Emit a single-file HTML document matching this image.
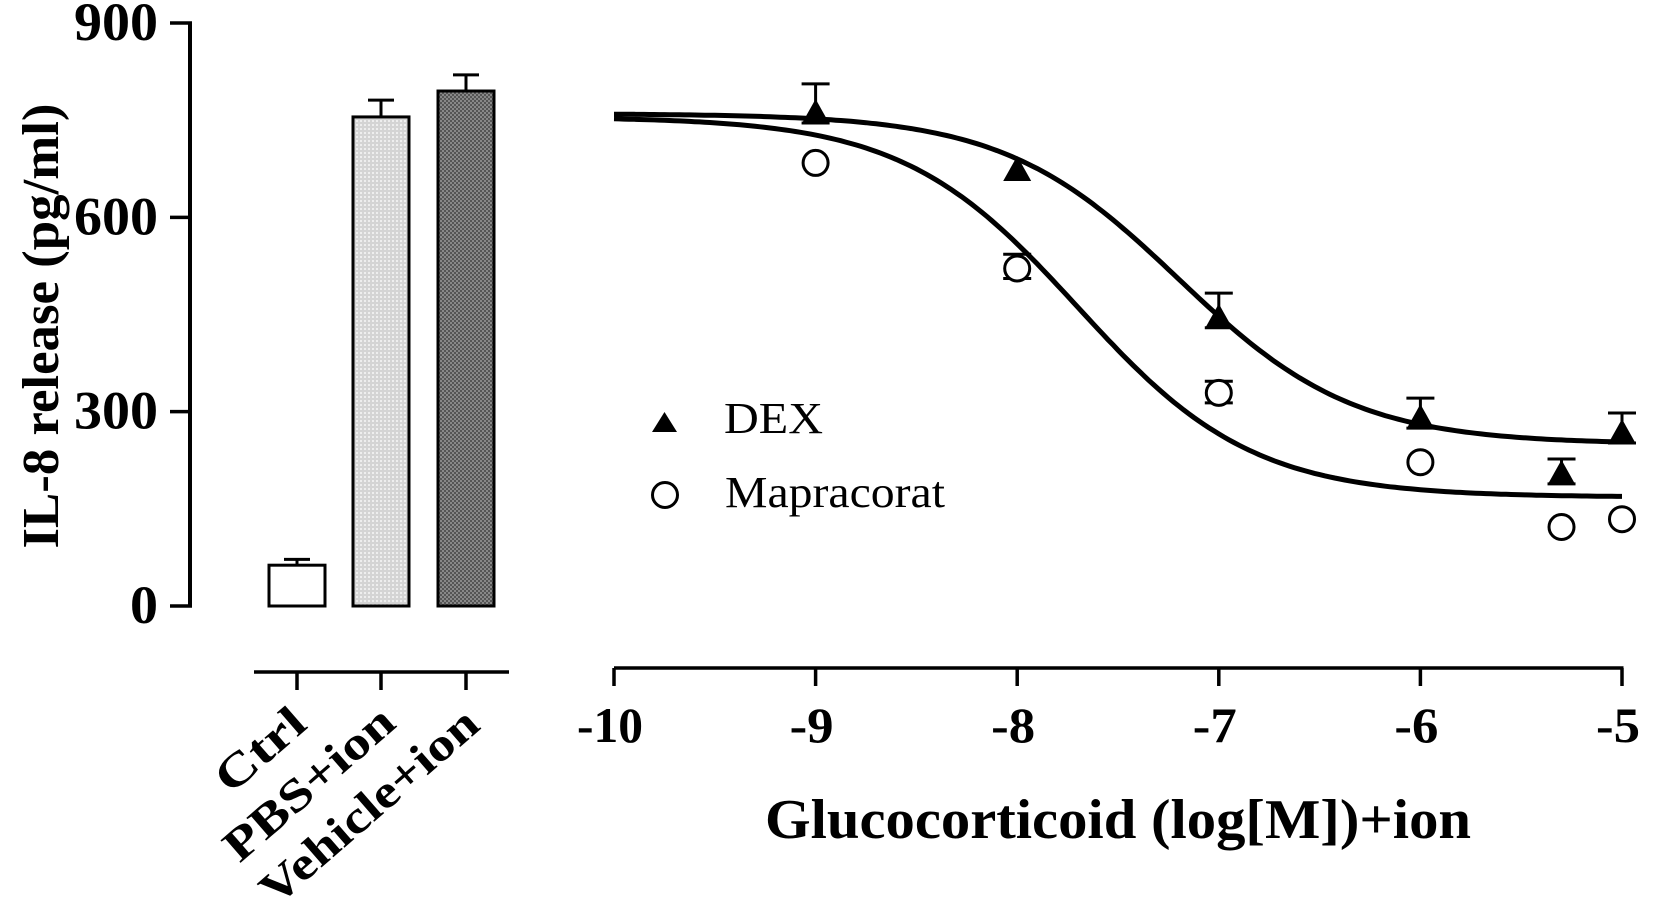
<!DOCTYPE html>
<html><head><meta charset="utf-8"><style>
html,body{margin:0;padding:0;background:#fff;}
svg{display:block;font-family:"Liberation Serif",serif;}
</style></head><body>
<svg id="chart" width="1662" height="901" viewBox="0 0 1662 901" xmlns="http://www.w3.org/2000/svg">
<defs>
<pattern id="lightDots" width="4" height="4" patternUnits="userSpaceOnUse"><rect width="4" height="4" fill="#d4d4d4"/><rect width="2" height="2" fill="#eeeeee"/></pattern>
<pattern id="darkDots" width="4" height="4" patternUnits="userSpaceOnUse"><rect width="4" height="4" fill="#555"/><rect width="2" height="2" fill="#888"/><rect x="2" y="2" width="2" height="2" fill="#888"/></pattern>
</defs>
<g id="left"></g>
<g id="right"></g>
<text x="58" y="326" transform="rotate(-90 58 326)" text-anchor="middle" font-weight="bold" font-size="52" textLength="445" lengthAdjust="spacingAndGlyphs">IL-8 release (pg/ml)</text>
<text x="1118" y="838" text-anchor="middle" font-weight="bold" font-size="56" textLength="706" lengthAdjust="spacingAndGlyphs">Glucocorticoid (log[M])+ion</text>
<g>
<polygon points="652,432 677,432 664.5,412" fill="#000"/>
<text x="724" y="433" font-size="44" textLength="99" lengthAdjust="spacingAndGlyphs">DEX</text>
<circle cx="665" cy="495" r="12.5" fill="none" stroke="#000" stroke-width="3"/>
<text x="725" y="507" font-size="44" textLength="220" lengthAdjust="spacingAndGlyphs">Mapracorat</text>
</g>
</svg>
<script>
const NS='http://www.w3.org/2000/svg';
// ---- bar data
const barCategories=['Ctrl','PBS+ion','Vehicle+ion'];
const barValues=[63,755,795];
const barErrors=[9,26,25];
const yTicks=[0,300,600,900];
// ---- dose response data
const doseX=[-9,-8,-7,-6,-5.3,-5];
const dexValues=[761,673,445,290,204,267];
const dexErrors=[45,0,38,31,23,31];
const mapValues=[684,521,329,222,122,134];
const mapErrors=[0,22,18,0,0,0];
const xTicks=[-10,-9,-8,-7,-6,-5];
const xTickLabels=['-10','-9','-8','-7','-6','-5'];
const dexFit=[760,250,-7.2,1];
const mapFit=[755,168,-7.7,1];

const Y=v=>606-v*(583/900);
const X=v=>614+(v+10)*201.6;
function el(tag,attrs,parent){const e=document.createElementNS(NS,tag);for(const k in attrs)e.setAttribute(k,attrs[k]);parent.appendChild(e);return e;}
const L=document.getElementById('left'),R=document.getElementById('right');

let ax=el('line',{x1:190,y1:Y(900)-1,x2:190,y2:Y(0)+1.5,stroke:'#000','stroke-width':4},L);


yTicks.forEach(t=>{
 const tk=el('line',{x1:170,y1:Y(t),x2:192,y2:Y(t),stroke:'#000','stroke-width':3.5},L);
 
 
 const s=String(t);
 const tx=el('text',{x:158,y:Y(t)+17,'text-anchor':'end','font-weight':'bold','font-size':54,textLength:s.length*28,lengthAdjust:'spacingAndGlyphs'},L);
 tx.textContent=s;
 
 
});
const barX=[297,381,466],barW=56;
const fills=['#fff','url(#lightDots)','url(#darkDots)'];
const catLen=[104,210,273];
const catEnd=[[309,727],[398,726],[482,728]];
let cax=el('line',{x1:254,y1:672,x2:509,y2:672,stroke:'#000','stroke-width':3.5},L);


barCategories.forEach((c,i)=>{
 const cx=barX[i];
 const eb=el('path',{d:`M${cx} ${Y(barValues[i])} V${Y(barValues[i]+barErrors[i])} M${cx-13} ${Y(barValues[i]+barErrors[i])} H${cx+13}`,stroke:'#000','stroke-width':3,fill:'none'},L);
 
 
 const b=el('rect',{x:cx-barW/2,y:Y(barValues[i]),width:barW,height:Y(0)-Y(barValues[i]),fill:fills[i],stroke:'#000','stroke-width':3},L);
 
 
 const tk=el('line',{x1:cx,y1:672,x2:cx,y2:690,stroke:'#000','stroke-width':3.5},L);
 
 
 const [ex,ey]=catEnd[i];
 const t=el('text',{x:ex,y:ey,'text-anchor':'end','font-weight':'bold','font-size':46,textLength:catLen[i],lengthAdjust:'spacingAndGlyphs',transform:`rotate(-41 ${ex} ${ey})`},L);
 t.textContent=c;
 
 
});

let xa=el('line',{x1:X(-10),y1:668,x2:X(-5)+1.5,y2:668,stroke:'#000','stroke-width':3.5},R);


xTicks.forEach((t,i)=>{
 const tk=el('line',{x1:X(t),y1:668,x2:X(t),y2:686,stroke:'#000','stroke-width':3.5},R);
 
 
 const s=xTickLabels[i];
 const tx=el('text',{x:X(t)-4,y:742,'text-anchor':'middle','font-weight':'bold','font-size':50,textLength:s.length*22,lengthAdjust:'spacingAndGlyphs'},R);
 tx.textContent=s;
 
 
});
function curve(p,name){
 const [top,bot,ec,h]=p;let d='';
 for(let i=0;i<=200;i++){const x=-10+5*i/200;const v=bot+(top-bot)/(1+Math.pow(10,(x-ec)*h));d+=(i?'L':'M')+X(x).toFixed(1)+' '+Y(v).toFixed(1);}
 const c=el('path',{d:d,fill:'none',stroke:'#000','stroke-width':5},R);
 
 
}
curve(dexFit,'dex-fit-curve');
curve(mapFit,'mapracorat-fit-curve');
function errs(vals,errsA,name){
 doseX.forEach((x,i)=>{ if(!errsA[i])return;
  const cx=X(x),y0=Y(vals[i]),y1=Y(vals[i]+errsA[i]);
  const e=el('path',{d:`M${cx} ${y0+10} V${y1} M${cx-14} ${y1} H${cx+14} M${cx-14} ${y0+10} H${cx+14}`,stroke:'#000','stroke-width':3,fill:'none'},R);
  
  
 });
}
errs(dexValues,dexErrors,'dex-error-bar');
errs(mapValues,mapErrors,'mapracorat-error-bar');
doseX.forEach((x,i)=>{
 const cx=X(x),cy=Y(dexValues[i]);
 const t=el('polygon',{points:`${cx-14},${cy+11} ${cx+14},${cy+11} ${cx},${cy-14}`,fill:'#000'},R);
 
 
 const c=el('circle',{cx:cx,cy:Y(mapValues[i]),r:12.5,fill:'#fff',stroke:'#000','stroke-width':3},R);
 
 
});
</script>
</body></html>
